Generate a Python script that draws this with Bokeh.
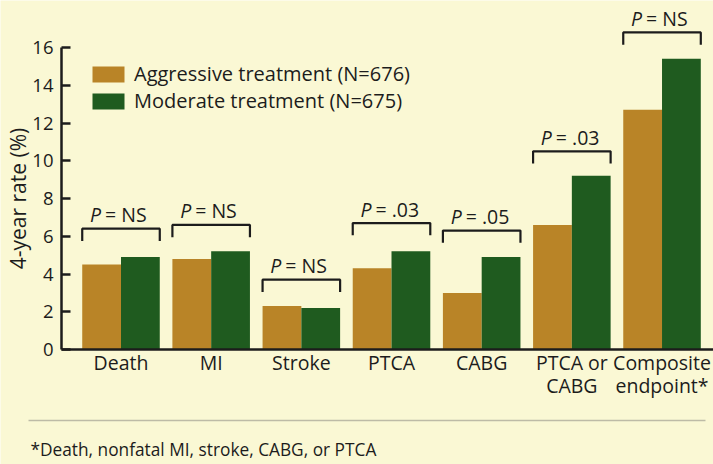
import numpy as np
from bokeh.plotting import figure
from bokeh.models import Range1d, ColumnDataSource, Legend, LegendItem, FixedTicker
from bokeh.transform import dodge
from bokeh.embed import file_html
from bokeh.resources import INLINE
from bokeh.core.properties import value

# ---- data ----
categories = ["Death", "MI", "Stroke", "PTCA", "CABG", "PTCA or\nCABG", "Composite\nendpoint*"]
aggressive = [4.5, 4.8, 2.3, 4.3, 3.0, 6.6, 12.7]
moderate = [4.9, 5.2, 2.2, 5.2, 4.9, 9.2, 15.4]
p_values = ["= NS", "= NS", "= NS", "= .03", "= .05", "= .03", "= NS"]
bracket_tops = [6.4, 6.6, 3.7, 6.7, 6.3, 10.5, 16.8]
y_ticks = [0, 2, 4, 6, 8, 10, 12, 14, 16]
series_labels = ["Aggressive treatment (N=676)", "Moderate treatment (N=675)"]
y_label = "4-year rate (%)"
footnote = "*Death, nonfatal MI, stroke, CABG, or PTCA"

# ---- style ----
BG = "#FAF8D4"
AGG = "#B98427"
MOD = "#1F5B1F"
INK = "#1c1c1c"
FONT = "Open Sans"
FS = "19.5px"

W, H = 713, 464
PX_X = 90.17          # pixels per category step
PX_Y = 18.875         # pixels per percent
X0 = -120.5 / PX_X    # left edge of the frame in data units
Y0 = -(H - 349) / PX_Y
x_start, x_end = X0, X0 + W / PX_X
y_start, y_end = Y0, Y0 + H / PX_Y
axis_x = X0 + 61 / PX_X

x = np.arange(len(categories))
bw = 0.43

p = figure(width=W, height=H, x_range=Range1d(x_start, x_end),
           y_range=Range1d(y_start, y_end), output_backend="svg",
           toolbar_location=None, x_axis_location=None, min_border=0)
p.background_fill_color = BG
p.border_fill_color = BG
p.outline_line_color = None
p.xgrid.visible = False
p.ygrid.visible = False

src = ColumnDataSource(dict(x=x, agg=aggressive, mod=moderate))
r_agg = p.vbar(x=dodge("x", -bw / 2, range=p.x_range), top="agg", width=bw, source=src,
               fill_color=AGG, line_color=None)
r_mod = p.vbar(x=dodge("x", bw / 2, range=p.x_range), top="mod", width=bw, source=src,
               fill_color=MOD, line_color=None)

# baseline (x axis line)
p.segment(x0=[axis_x], y0=[0], x1=[x_end], y1=[0], line_color=INK, line_width=2.5)

# y axis
ya = p.yaxis[0]
ya.fixed_location = axis_x
ya.ticker = FixedTicker(ticks=y_ticks)
ya.bounds = (0, 16)
ya.major_tick_in = 9
ya.major_tick_out = 0
ya.minor_tick_line_color = None
ya.axis_line_width = 2.5
ya.axis_line_color = INK
ya.major_tick_line_width = 2.5
ya.major_tick_line_color = INK
ya.major_label_text_font = FONT
ya.major_label_text_font_size = "18.5px"
ya.major_label_text_color = INK
ya.major_label_standoff = 8
ya.axis_label = y_label
ya.axis_label_text_font = FONT
ya.axis_label_text_font_size = "21px"
ya.axis_label_text_font_style = "normal"
ya.axis_label_text_color = INK
ya.axis_label_standoff = -3

# brackets
leg = 0.65
bxs = [[i - bw, i - bw, i + bw, i + bw] for i in x]
bys = [[t - leg, t, t, t - leg] for t in bracket_tops]
p.multi_line(xs=bxs, ys=bys, line_color=INK, line_width=2.2)

lab_y = [t + 14 / PX_Y for t in bracket_tops]
lab_src = ColumnDataSource(dict(x=x, y=lab_y, p=["P"] * len(x), v=p_values))
p.text(x="x", y="y", text="p", source=lab_src, x_offset=-20,
       text_align="right", text_baseline="alphabetic", text_font=value(FONT),
       text_font_size=FS, text_font_style="italic", text_color=INK)
p.text(x="x", y="y", text="v", source=lab_src, x_offset=-16,
       text_align="left", text_baseline="alphabetic", text_font=value(FONT),
       text_font_size=FS, text_color=INK)

# category labels
cat_src = ColumnDataSource(dict(x=x, y=[1 / PX_Y] * len(x), t=categories))
p.text(x="x", y="y", text="t", source=cat_src, text_align="center",
       text_baseline="top", text_font=value(FONT), text_font_size=FS,
       text_color=INK, text_line_height=0.86)

# legend
legend = Legend(items=[LegendItem(label=series_labels[0], renderers=[r_agg]),
                       LegendItem(label=series_labels[1], renderers=[r_mod])],
                location=(88, 350), orientation="vertical")
legend.glyph_width = 40
legend.glyph_height = 20
legend.label_height = 20
legend.spacing = 0
legend.label_standoff = 6
legend.padding = 0
legend.margin = 0
legend.border_line_color = None
legend.background_fill_alpha = 0
legend.label_text_font = FONT
legend.label_text_font_size = "20px"
legend.label_text_color = INK
p.add_layout(legend)

# footer rule and footnote
rule_y = -(420 - 349) / PX_Y
p.segment(x0=[X0 + 28 / PX_X], y0=[rule_y], x1=[X0 + 705 / PX_X], y1=[rule_y],
          line_color="#BDBBA6", line_width=1.5)
p.text(x=[X0 + 30 / PX_X], y=[-(449 - 349) / PX_Y], text=[footnote], text_align="left",
       text_baseline="alphabetic", text_font=value(FONT), text_font_size="17.3px",
       text_color=INK)

open("out.html", "w").write(file_html(p, INLINE))
